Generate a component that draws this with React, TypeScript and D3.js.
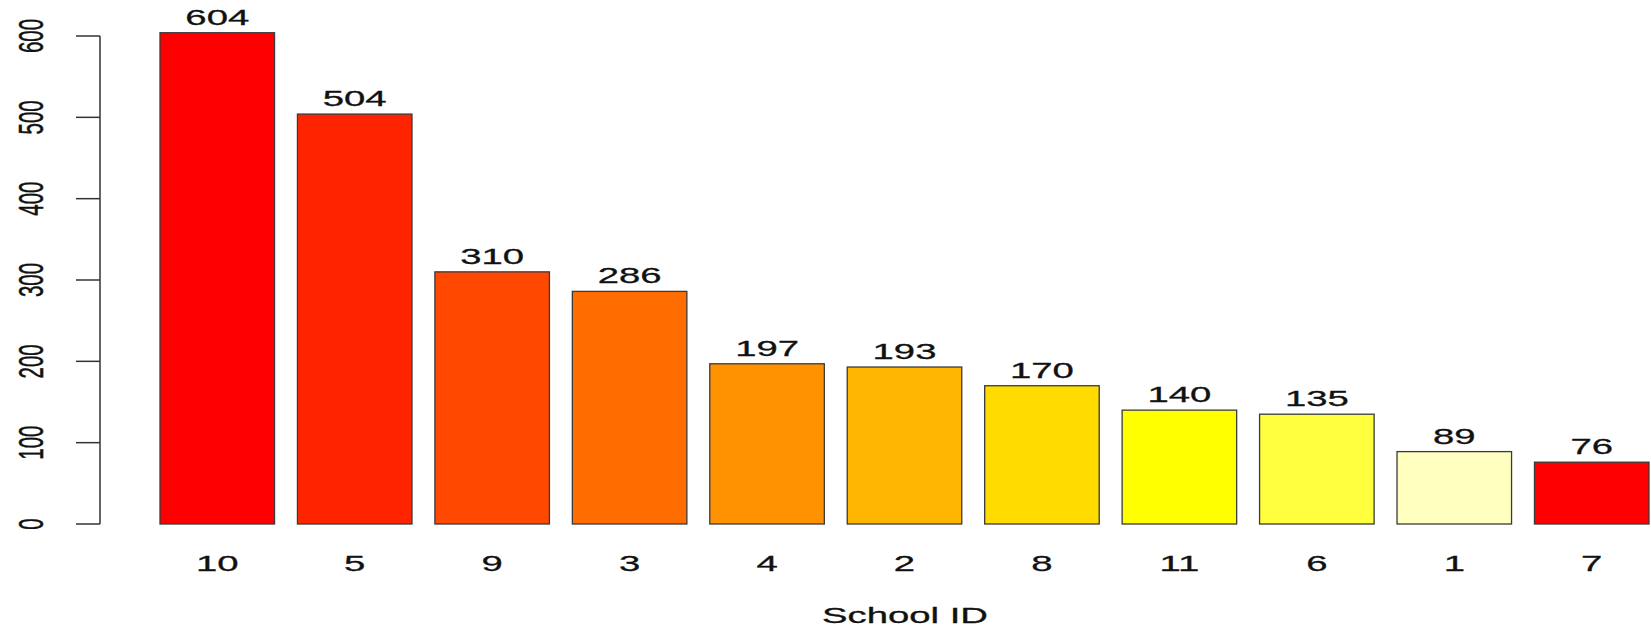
import React from "react";
import * as d3 from "d3";

const schoolIds = ["10", "5", "9", "3", "4", "2", "8", "11", "6", "1", "7"];
const counts = [604, 504, 310, 286, 197, 193, 170, 140, 135, 89, 76];
const barColors = ["#FF0000", "#FF2400", "#FF4900", "#FF6D00", "#FF9200", "#FFB600", "#FFDB00", "#FFFF00", "#FFFF40", "#FFFFBF", "#FF0000"];
const yTicks = [0, 100, 200, 300, 400, 500, 600];
const xTitle = "School ID";

const W = 1651;
const H = 628;
const SX = 1.74;
const FONT = "'Liberation Sans', Arial, Helvetica, sans-serif";

export default function App() {
  const x = d3.scaleBand<string>().domain(schoolIds).range([160, 1649]).paddingInner(1 / 6).paddingOuter(0);
  const y = d3.scaleLinear().domain([0, 600]).range([524, 36]);
  const axisX = 100;
  return (
    <svg width={W} height={H} style={{ position: "absolute", left: 0, top: 0, background: "#fff" }}>
      <g>
        {schoolIds.map((id, i) => (
          <rect
            key={id}
            x={x(id)}
            y={y(counts[i])}
            width={x.bandwidth()}
            height={y(0) - y(counts[i])}
            fill={barColors[i]}
            stroke="#3a3a3a"
            strokeWidth={1.3}
          />
        ))}
      </g>
      <g fill="#111" stroke="#111" strokeWidth={0.3} fontFamily={FONT} fontSize={22}>
        {schoolIds.map((id, i) => (
          <text
            key={"v" + id}
            transform={`translate(${(x(id) as number) + x.bandwidth() / 2},${y(counts[i]) - 8}) scale(${SX},1)`}
            textAnchor="middle"
          >
            {counts[i]}
          </text>
        ))}
        {schoolIds.map((id) => (
          <text
            key={"x" + id}
            transform={`translate(${(x(id) as number) + x.bandwidth() / 2},${571}) scale(${SX},1)`}
            textAnchor="middle"
          >
            {id}
          </text>
        ))}
        <text transform={`translate(${905},${623}) scale(${SX},1)`} textAnchor="middle">
          {xTitle}
        </text>
        {yTicks.map((t) => (
          <text
            key={"y" + t}
            fontSize={20.5}
            transform={`translate(${43},${y(t)}) scale(${SX},1) rotate(-90)`}
            textAnchor="middle"
          >
            {t}
          </text>
        ))}
      </g>
      <g stroke="#333" strokeWidth={1.5} fill="none">
        <line x1={axisX} x2={axisX} y1={y(0)} y2={y(600)} />
        {yTicks.map((t) => (
          <line key={"t" + t} x1={76} x2={axisX} y1={y(t)} y2={y(t)} />
        ))}
      </g>
    </svg>
  );
}
